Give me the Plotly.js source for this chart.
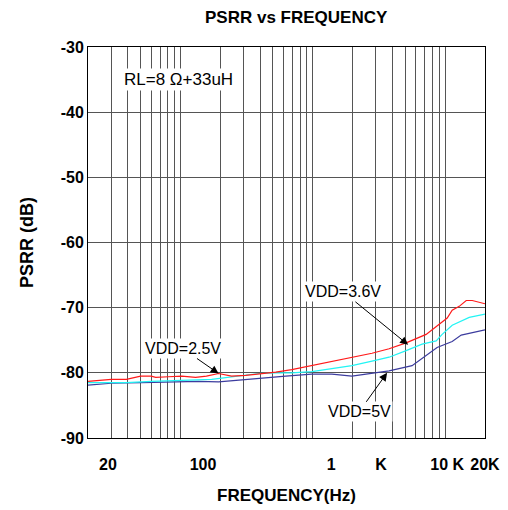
<!DOCTYPE html>
<html><head><meta charset="utf-8">
<script src="https://cdn.plot.ly/plotly-3.0.1.min.js"></script>
<style>html,body{margin:0;padding:0;background:#fff}#chart{width:508px;height:510px}</style>
</head><body><div id="chart"></div>
<script>
// VDD = 2.5 V (red)
const freq25 = [20,30,39,50,60,65,81,102,130,157,194,243,311,390,525,693,982,1393,1974,2800,3770,5070,7180,9010,10360,11300,12770,14430,16020,20000];
const psrr25 = [-81.3,-81.0,-81.0,-80.5,-80.5,-80.7,-80.6,-80.5,-80.7,-80.5,-80.1,-80.5,-80.4,-80.2,-79.9,-79.5,-78.9,-78.3,-77.7,-77.0,-76.3,-75.4,-74.1,-72.6,-71.6,-70.4,-69.8,-68.9,-68.9,-69.4];
// VDD = 3.6 V (cyan)
const freq36 = [20,30,39,60,92,137,172,205,261,390,525,693,982,1393,1974,2800,3770,5070,6690,8550,9490,11300,15200,20000];
const psrr36 = [-81.5,-81.5,-81.5,-81.3,-81.2,-81.1,-81.0,-80.8,-80.5,-80.1,-80.0,-80.0,-79.8,-79.4,-78.9,-78.2,-77.6,-76.6,-75.6,-75.1,-74.1,-72.7,-71.5,-71.0];
// VDD = 5 V (blue)
const freq5 = [20,30,51,92,137,194,275,390,624,982,1393,1974,2800,3770,5620,6930,8690,11300,13220,20000];
const psrr5 = [-81.9,-81.6,-81.5,-81.4,-81.3,-81.4,-81.1,-80.9,-80.5,-80.2,-80.2,-80.5,-80.1,-79.7,-78.9,-77.5,-76.1,-75.2,-74.2,-73.4];

const gridFreqs = [30,40,50,60,70,80,90,100,200,300,400,500,600,700,800,900,1000,2000,3000,4000,5000,6000,7000,8000,9000,10000];
const tickLabels = ['20','100','1','K','10 K','20K'];
const tickLabelFreqs = [28.3,148,1374,3280,10360,19990];
const yTicks = [-90,-80,-70,-60,-50,-40,-30];
const yTickLabels = ['-90','-80','-70','-60','-50','-40','-30'];
const xMin = 20, xMax = 20000;

const FONT = 'Arial, "Liberation Sans", sans-serif';
const bold = (s) => ({family: FONT, size: s, color: '#000', weight: 'bold'});

const traces = [
  {x: freq5, y: psrr5, mode: 'lines', line: {color: '#3c3c9e', width: 1.2}, hoverinfo: 'skip', showlegend: false},
  {x: freq36, y: psrr36, mode: 'lines', line: {color: '#22f4f4', width: 1.2}, hoverinfo: 'skip', showlegend: false},
  {x: freq25, y: psrr25, mode: 'lines', line: {color: '#ff1a1a', width: 1.2}, hoverinfo: 'skip', showlegend: false},
  {x: tickLabelFreqs, y: tickLabelFreqs.map(() => null), xaxis: 'x2', yaxis: 'y', mode: 'lines', hoverinfo: 'skip', showlegend: false}
];

const annFont = {family: FONT, size: 16, color: '#000'};
const layout = {
  width: 508, height: 510,
  margin: {l: 88, r: 23, t: 47, b: 72},
  paper_bgcolor: '#fff', plot_bgcolor: '#fff',
  showlegend: false,
  title: {text: 'PSRR vs FREQUENCY', font: bold(17), x: 0.583, xref: 'container', xanchor: 'center', y: 0.966, yref: 'container', yanchor: 'middle'},
  xaxis: {
    type: 'log', range: [Math.log10(xMin), Math.log10(xMax)],
    tickvals: gridFreqs, showticklabels: false, ticks: '',
    showgrid: true, gridcolor: '#555', gridwidth: 1,
    showline: true, linecolor: '#000', linewidth: 1, mirror: true, zeroline: false
  },
  xaxis2: {
    type: 'log', range: [Math.log10(xMin), Math.log10(xMax)], overlaying: 'x', anchor: 'y', side: 'bottom',
    tickvals: tickLabelFreqs, ticktext: tickLabels, showgrid: false, zeroline: false, showline: false,
    ticks: 'outside', ticklen: 12, tickcolor: 'rgba(0,0,0,0)', tickfont: bold(16),
    title: {text: 'FREQUENCY(Hz)', font: bold(17), standoff: 16}
  },
  yaxis: {
    range: [-90, -30], tickvals: yTicks, ticktext: yTickLabels, ticks: '', tickfont: bold(16),
    showgrid: true, gridcolor: '#555', gridwidth: 1,
    showline: true, linecolor: '#000', linewidth: 1, mirror: true, zeroline: false,
    title: {text: 'PSRR (dB)', font: bold(18), standoff: 22}
  },
  annotations: [
    {text: 'RL=8 Ω+33uH', xref: 'paper', yref: 'paper', x: 0.227, y: 0.916, xanchor: 'center', yanchor: 'middle', showarrow: false, font: {family: FONT, size: 17, color: '#000'}, bgcolor: '#fff'},
    {text: 'VDD=2.5V', x: Math.log10(194), y: -80.1, xref: 'x', yref: 'y', ax: -36, ay: -25, showarrow: true, arrowhead: 2, arrowsize: 1.6, arrowwidth: 1, arrowcolor: '#000', font: annFont, bgcolor: '#fff'},
    {text: 'VDD=3.6V', x: Math.log10(5250), y: -75.7, xref: 'x', yref: 'y', ax: -65, ay: -53, showarrow: true, arrowhead: 2, arrowsize: 1.6, arrowwidth: 1, arrowcolor: '#000', font: annFont, bgcolor: '#fff'},
    {text: 'VDD=5V', x: Math.log10(3640), y: -80.0, xref: 'x', yref: 'y', ax: -28, ay: 39, showarrow: true, arrowhead: 2, arrowsize: 1.6, arrowwidth: 1, arrowcolor: '#000', font: annFont, bgcolor: '#fff'}
  ]
};

Plotly.newPlot('chart', traces, layout, {staticPlot: true, displayModeBar: false});
</script>
</body></html>
